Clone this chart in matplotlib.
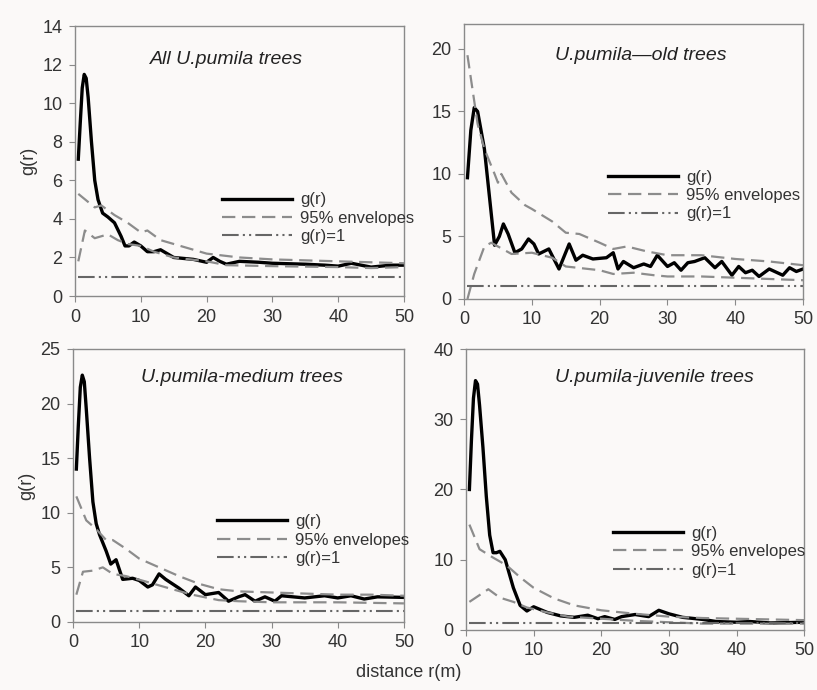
import matplotlib.pyplot as plt

plt.rcParams['font.family'] = ['Liberation Sans', 'DejaVu Sans']

# ---- data ----
# All trees
r_all = [0.5, 0.8, 1.1, 1.4, 1.7, 2.0, 2.5, 3.0, 3.5, 4.2, 5.0, 6.0, 7.0, 7.6, 8.2, 9.0, 10.0, 11.0, 12.0,
         13.0, 15.0, 18.0, 20.0, 21.0, 22.0, 23.0, 25.0, 28.0, 30.0, 35.0, 38.0, 40.0, 42.0, 45.0, 48.0, 50.0]
g_all = [7.1, 9.0, 10.8, 11.5, 11.3, 10.3, 8.0, 6.0, 5.0, 4.3, 4.1, 3.8, 3.1, 2.6, 2.6, 2.8, 2.6, 2.3, 2.3,
         2.4, 2.0, 1.9, 1.75, 2.0, 1.8, 1.65, 1.8, 1.75, 1.7, 1.65, 1.6, 1.55, 1.7, 1.5, 1.6, 1.6]
hi_all_r = [0.5, 3.0, 4.0, 6.0, 8.0, 10.0, 11.0, 13.0, 16.0, 20.0, 25.0, 30.0, 35.0, 40.0, 45.0, 50.0]
hi_all = [5.3, 4.6, 4.7, 4.2, 3.8, 3.3, 3.4, 2.9, 2.6, 2.2, 2.0, 1.9, 1.85, 1.8, 1.75, 1.7]
lo_all_r = [0.5, 1.5, 3.0, 5.0, 6.5, 8.0, 10.0, 12.0, 15.0, 20.0, 23.0, 30.0, 40.0, 45.0, 50.0]
lo_all = [1.8, 3.4, 3.0, 3.2, 2.9, 2.7, 2.6, 2.3, 2.0, 1.8, 1.6, 1.55, 1.5, 1.45, 1.5]

# Old trees
r_old = [0.5, 1.0, 1.5, 2.0, 3.0, 4.5, 5.2, 5.8, 6.5, 7.5, 8.5, 9.5, 10.3, 11.0, 12.5, 14.0, 15.5, 16.5,
         17.5, 19.0, 21.0, 22.0, 22.7, 23.5, 25.0, 26.5, 27.5, 28.5, 30.0, 31.0, 32.0, 33.0, 34.0, 35.5,
         37.0, 38.0, 39.5, 40.5, 41.5, 42.5, 43.5, 45.0, 47.0, 48.0, 49.0, 50.0]
g_old = [9.7, 13.5, 15.3, 15.0, 12.0, 4.3, 5.0, 6.0, 5.2, 3.7, 4.0, 4.8, 4.4, 3.6, 4.0, 2.4, 4.4, 3.1,
         3.5, 3.2, 3.3, 3.7, 2.4, 3.0, 2.5, 2.8, 2.6, 3.5, 2.6, 2.9, 2.3, 2.9, 3.0, 3.3,
         2.5, 3.0, 1.9, 2.6, 2.1, 2.3, 1.8, 2.4, 1.9, 2.5, 2.2, 2.4]
hi_old_r = [0.5, 2.0, 3.0, 4.5, 5.0, 5.5, 7.0, 9.0, 10.0, 13.0, 15.0, 17.0, 20.0, 22.0, 24.0, 27.0, 30.0,
            35.0, 40.0, 45.0, 50.0]
hi_old = [19.5, 14.0, 12.0, 10.0, 9.3, 10.0, 8.5, 7.5, 7.2, 6.2, 5.3, 5.2, 4.5, 4.0, 4.2, 3.8, 3.5,
          3.5, 3.2, 3.0, 2.7]
lo_old_r = [0.5, 1.5, 3.0, 4.0, 5.0, 7.0, 10.0, 13.0, 15.0, 20.0, 22.0, 25.0, 28.0, 30.0, 35.0, 40.0, 45.0, 50.0]
lo_old = [0.0, 2.0, 4.2, 4.5, 4.2, 3.6, 3.7, 3.3, 2.6, 2.3, 2.0, 2.1, 1.9, 1.8, 1.8, 1.7, 1.6, 1.5]

# Medium trees
r_med = [0.5, 0.8, 1.1, 1.4, 1.7, 2.0, 2.5, 3.0, 3.5, 4.0, 5.0, 5.7, 6.5, 7.5, 9.0, 10.0, 11.3, 12.0,
         13.0, 14.0, 16.0, 17.5, 18.5, 20.0, 22.0, 23.5, 25.0, 26.0, 27.5, 29.0, 30.5, 31.5, 35.0, 38.0,
         40.0, 42.0, 44.0, 46.0, 50.0]
g_med = [14.0, 18.0, 21.5, 22.6, 22.0, 19.5, 15.0, 11.0, 9.0, 8.0, 6.5, 5.3, 5.7, 3.9, 4.0, 3.8, 3.2, 3.4,
         4.4, 3.9, 3.1, 2.4, 3.2, 2.5, 2.7, 1.9, 2.3, 2.5, 1.9, 2.3, 1.9, 2.4, 2.2, 2.4,
         2.2, 2.4, 2.1, 2.3, 2.25]
hi_med_r = [0.5, 2.0, 3.5, 5.0, 6.0, 8.0, 10.0, 13.0, 16.0, 19.0, 22.0, 25.0, 30.0, 35.0, 40.0, 45.0, 50.0]
hi_med = [11.5, 9.3, 8.5, 7.5, 7.5, 6.7, 5.8, 5.0, 4.2, 3.5, 3.0, 2.8, 2.7, 2.6, 2.5, 2.5, 2.4]
lo_med_r = [0.5, 1.5, 3.0, 4.5, 6.0, 8.0, 11.0, 15.0, 18.0, 22.0, 25.0, 30.0, 40.0, 50.0]
lo_med = [2.5, 4.6, 4.7, 5.0, 4.4, 4.2, 3.7, 3.0, 2.5, 2.0, 1.9, 1.8, 1.8, 1.7]

# Juvenile trees
r_juv = [0.5, 0.8, 1.1, 1.4, 1.7, 2.0, 2.5, 3.0, 3.5, 4.0, 4.5, 5.0, 5.8, 7.0, 8.0, 9.0, 10.0, 12.0, 14.0,
         16.0, 18.0, 19.5, 20.5, 22.0, 23.0, 25.0, 27.0, 28.5, 30.0, 32.0, 35.0, 37.0, 40.0, 42.0, 45.0, 50.0]
g_juv = [20.0, 27.0, 33.0, 35.5, 35.0, 32.0, 26.0, 19.0, 13.5, 11.0, 11.0, 11.2, 10.0, 6.0, 3.5, 2.7, 3.3,
         2.5, 2.0, 1.8, 2.1, 1.6, 1.9, 1.5, 1.9, 2.2, 1.9, 2.8, 2.3, 1.8, 1.5, 1.2, 1.1, 1.2, 1.0, 1.1]
hi_juv_r = [0.5, 2.0, 4.0, 6.0, 8.0, 10.0, 13.0, 16.0, 20.0, 25.0, 30.0, 35.0, 40.0, 45.0, 50.0]
hi_juv = [15.0, 11.5, 10.3, 9.2, 7.5, 6.0, 4.5, 3.5, 2.8, 2.3, 1.9, 1.7, 1.6, 1.5, 1.4]
lo_juv_r = [0.5, 3.3, 5.0, 7.0, 9.0, 12.0, 15.0, 20.0, 25.0, 30.0, 35.0, 40.0, 50.0]
lo_juv = [4.0, 5.8, 4.6, 4.0, 3.2, 2.5, 1.9, 1.6, 1.3, 1.1, 0.9, 0.9, 0.9]

titles = ['All U.pumila trees', 'U.pumila\u2014old trees', 'U.pumila-medium trees', 'U.pumila-juvenile trees']

bg = '#fbf9f8'
fig = plt.figure(figsize=(8.17, 6.90), dpi=100, facecolor=bg)

# axes rectangles and per-panel settings
panels = [
    dict(rect=[0.0918, 0.571, 0.4027, 0.391], ylim=14, yt=range(0, 15, 2),
         r=r_all, g=g_all, hr=hi_all_r, h=hi_all, lr=lo_all_r, l=lo_all,
         tpos=(0.46, 0.878), lpos=(0.42, 0.415)),
    dict(rect=[0.568, 0.5667, 0.415, 0.3986], ylim=22, yt=range(0, 21, 5),
         r=r_old, g=g_old, hr=hi_old_r, h=hi_old, lr=lo_old_r, l=lo_old,
         tpos=(0.52, 0.884), lpos=(0.40, 0.50)),
    dict(rect=[0.0894, 0.0986, 0.405, 0.3957], ylim=25, yt=range(0, 26, 5),
         r=r_med, g=g_med, hr=hi_med_r, h=hi_med, lr=lo_med_r, l=lo_med,
         tpos=(0.51, 0.894), lpos=(0.41, 0.425)),
    dict(rect=[0.5704, 0.087, 0.414, 0.4072], ylim=40, yt=range(0, 41, 10),
         r=r_juv, g=g_juv, hr=hi_juv_r, h=hi_juv, lr=lo_juv_r, l=lo_juv,
         tpos=(0.557, 0.90), lpos=(0.41, 0.40)),
]

for i, p in enumerate(panels):
    ax = fig.add_axes(p['rect'], facecolor=bg)
    ax.plot(p['r'], p['g'], color='black', lw=2.4, solid_joinstyle='round', label='g(r)')
    ax.plot(p['hr'], p['h'], color='#8c8c8c', lw=1.6, dashes=(6, 3), label='95% envelopes')
    ax.plot(p['lr'], p['l'], color='#8c8c8c', lw=1.6, dashes=(6, 3))
    ax.plot([0.5, 50], [1, 1], color='#666666', lw=1.5, dashes=(8, 2, 1, 2, 1, 2), label='g(r)=1')
    ax.set_xlim(0, 50)
    ax.set_ylim(0, p['ylim'])
    ax.set_xticks(range(0, 51, 10))
    ax.set_yticks(list(p['yt']))
    for s in ax.spines.values():
        s.set_color('#8a8a8a')
        s.set_linewidth(1.0)
    ax.tick_params(direction='out', length=4, color='#8a8a8a', labelsize=13, labelcolor='#333333', pad=5)
    ax.text(p['tpos'][0], p['tpos'][1], titles[i], transform=ax.transAxes, ha='center', va='center',
            fontsize=14, style='italic', color='#222222')
    leg = ax.legend(loc='upper left', bbox_to_anchor=p['lpos'], frameon=False, fontsize=12,
                    handlelength=4.2, handletextpad=0.5, labelspacing=0.2, borderpad=0)
    for t in leg.get_texts():
        t.set_color('#333333')
    if i % 2 == 0:
        ax.set_ylabel('g(r)', fontsize=13, color='#333333', labelpad=4)

fig.text(0.5, 0.026, 'distance r(m)', ha='center', va='center', fontsize=13, color='#333333')

fig.savefig('out.png', dpi=100, facecolor=bg)
